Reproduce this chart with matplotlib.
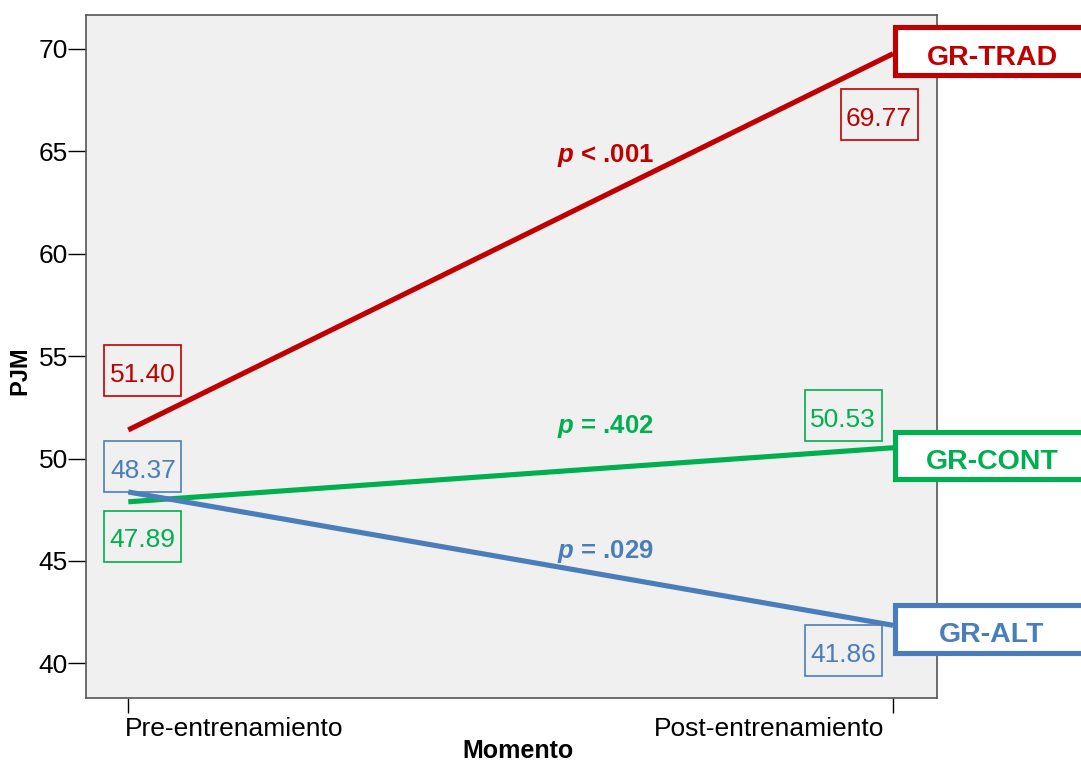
"""
PJM pre/post training by group, interaction plot.
"""
import matplotlib
matplotlib.use('Agg')
import matplotlib.pyplot as plt
import matplotlib.transforms as mtransforms
from matplotlib.patches import Rectangle

plt.rcParams['font.family'] = ['Liberation Sans', 'DejaVu Sans']
plt.rcParams['mathtext.fontset'] = 'custom'
plt.rcParams['mathtext.it'] = 'Liberation Sans:bold:italic'
plt.rcParams['mathtext.rm'] = 'Liberation Sans:bold'

# data
moments = ['Pre-entrenamiento', 'Post-entrenamiento']
groups = ['GR-TRAD', 'GR-CONT', 'GR-ALT']
pre_means = [51.40, 47.89, 48.37]
post_means = [69.77, 50.53, 41.86]
p_labels = ['< .001', '= .402', '= .029']
colors = ['#C00000', '#00B050', '#4A7EBB']

# layout (data units)
pre_box_y = [54.28, 46.22, 49.59]
post_box_y = [66.79, 52.08, 40.61]
post_box_x = [0.9817, 0.9346, 0.9346]
pre_box_x = 0.019
p_text_y = [64.50, 51.24, 45.15]
group_box_y = [69.88, 50.15, 41.70]
group_text_y = [69.22, 49.49, 41.06]

fig = plt.figure(figsize=(10.81, 7.61), dpi=100)
ax = fig.add_axes([86 / 1081, 63 / 761, 851 / 1081, 683 / 761])
ax.set_facecolor('#F0F0F0')

xs = [0, 1]
for i, g in enumerate(groups):
	ax.plot(xs, [pre_means[i], post_means[i]], color=colors[i], lw=3.7,
			solid_capstyle='butt', zorder=3)

def value_box(x, y, val, col):
	bw, bh = 0.1007, 2.49
	ax.add_patch(Rectangle((x - bw / 2, y - bh / 2), bw, bh, fill=False,
						   edgecolor=col, lw=1.2, zorder=4))
	ax.text(x, y - 0.55, '{0:.2f}'.format(val), color=col, fontsize=19,
			ha='center', va='baseline', zorder=5)

for i, g in enumerate(groups):
	value_box(pre_box_x, pre_box_y[i], pre_means[i], colors[i])
	value_box(post_box_x[i], post_box_y[i], post_means[i], colors[i])
	ax.text(0.560, p_text_y[i], '$p$ ' + p_labels[i], color=colors[i],
			fontsize=18.5, fontweight='bold', ha='left', va='baseline')
	# group label box hanging off the right edge
	bh = 2.34
	ax.add_patch(Rectangle((1.003, group_box_y[i] - bh / 2), 0.4, bh,
						   facecolor='white', edgecolor=colors[i], lw=3.7,
						   clip_on=False, zorder=6))
	ax.text(1.1294, group_text_y[i], g, color=colors[i], fontsize=20.5,
			fontweight='bold', ha='center', va='baseline', clip_on=False,
			zorder=7)

ax.set_xlim(-0.0553, 1.0575)
ax.set_ylim(38.31, 71.66)
ax.set_xticks(xs)
ax.set_xticklabels(moments, fontsize=19)
ax.set_yticks([40, 45, 50, 55, 60, 65, 70])
ax.tick_params(axis='y', labelsize=19, length=13, width=1, pad=0, direction='out')
ax.tick_params(axis='x', length=11, width=1, pad=3, direction='out')

# SPSS style: first label starts at its tick, last one ends at its tick
tl = ax.get_xticklabels()
tl[0].set_ha('left')
tl[0].set_transform(tl[0].get_transform() + mtransforms.ScaledTranslation(-0.03, 0, fig.dpi_scale_trans))
tl[1].set_ha('right')
tl[1].set_transform(tl[1].get_transform() + mtransforms.ScaledTranslation(-0.09, 0, fig.dpi_scale_trans))

for s in ax.spines.values():
	s.set_color('#555555')
	s.set_linewidth(1.2)

ax.set_xlabel('Momento', fontsize=18, fontweight='bold', va='baseline')
ax.xaxis.set_label_coords(0.5076, -0.0878)
ax.set_ylabel('PJM', fontsize=17, fontweight='bold', va='center')
ax.yaxis.set_label_coords(-0.0781, 0.4788)

plt.savefig('out.png', dpi=100)
